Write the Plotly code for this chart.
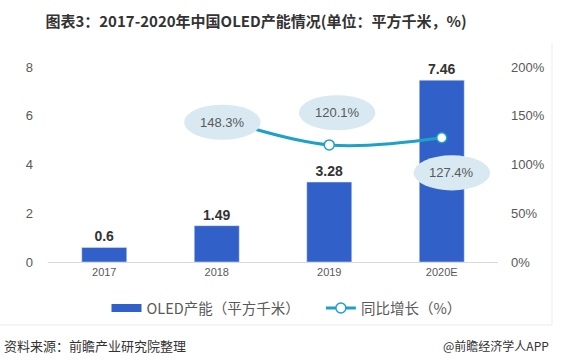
import plotly.graph_objects as go

categories = ["2017", "2018", "2019", "2020E"]
capacity = [0.6, 1.49, 3.28, 7.46]
growth_years = ["2018", "2019", "2020E"]
growth = [148.3, 120.1, 127.4]
growth_labels = ["148.3%", "120.1%", "127.4%"]

# label bubble offsets (category units, % units) relative to each point
bubble_dx = [0.05, 0.07, 0.09]
bubble_dy = [-5, 33, -36]
bubble_w = 0.34
bubble_h = 18

BAR = "#3060c8"
LINE = "#1fa0c8"
TXT = "#595959"
FONT = "Noto Sans CJK SC, Microsoft YaHei, sans-serif"
NUM = "Liberation Sans, Arial, sans-serif"
NB = "\u00a0"

fig = go.Figure()
fig.add_trace(go.Bar(
    x=categories, y=capacity, name="OLED产能（平方千米）",
    marker_color=BAR, width=0.4, showlegend=False,
    text=[str(v) for v in capacity], texttemplate="<b>%{text}</b>", textposition="outside",
    textfont=dict(size=14, color="#333333", family=NUM),
    cliponaxis=False,
))
# legend swatch for the bar series (wide rectangle as in the original legend)
fig.add_trace(go.Scatter(
    x=[None], y=[None], name="OLED产能（平方千米）" + NB * 5, mode="lines",
    line=dict(color=BAR, width=8), showlegend=True,
))
fig.add_trace(go.Scatter(
    x=growth_years, y=growth, name="同比增长（%）", yaxis="y2",
    mode="lines+markers", line=dict(color=LINE, width=3, shape="spline"),
    marker=dict(size=10, color="white", line=dict(color=LINE, width=1.5)),
))

shapes = []
annotations = []
for yr, v, lab, dx, dy in zip(growth_years, growth, growth_labels, bubble_dx, bubble_dy):
    xi = categories.index(yr) + dx
    cy = v + dy
    shapes.append(dict(type="circle", xref="x", yref="y2",
                       x0=xi - bubble_w, x1=xi + bubble_w, y0=cy - bubble_h, y1=cy + bubble_h,
                       fillcolor="#d8e9f1", line=dict(width=0), layer="above"))
    annotations.append(dict(x=xi, y=cy, xref="x", yref="y2", text=lab, showarrow=False,
                            font=dict(size=13, color=TXT, family=NUM)))

# faint frame
shapes.append(dict(type="line", xref="paper", yref="paper", x0=-0.11, x1=1.12, y0=-0.323, y1=-0.323,
                   line=dict(color="#ececec", width=1)))
shapes.append(dict(type="line", xref="paper", yref="paper", x0=1.12, x1=1.12, y0=-0.323, y1=1.12,
                   line=dict(color="#ececec", width=1)))

annotations += [
    dict(x=-0.102, y=-0.426, xref="paper", yref="paper", xanchor="left", yanchor="middle",
         showarrow=False, text="资料来源：前瞻产业研究院整理",
         font=dict(size=13, color="#333333", family=FONT)),
    dict(x=1.118, y=-0.426, xref="paper", yref="paper", xanchor="right", yanchor="middle",
         showarrow=False, text="@前瞻经济学人APP",
         font=dict(size=12, color="#333333", family=FONT)),
]

fig.update_layout(
    width=562, height=360,
    margin=dict(l=48, r=64, t=67, b=98),
    paper_bgcolor="white", plot_bgcolor="white",
    font=dict(family=FONT, color=TXT, size=12),
    title=dict(text="<b>图表3：2017-2020年中国OLED产能情况(单位：平方千米，%)</b>",
               x=256 / 562, xanchor="center", y=1 - 22 / 360, yanchor="middle",
               font=dict(size=15, color="#333333", family=FONT)),
    showlegend=True,
    legend=dict(orientation="h", x=0.53, xanchor="center", y=-0.236, yanchor="middle",
                font=dict(size=14.5, color=TXT, family=FONT), itemwidth=30),
    xaxis=dict(type="category", showgrid=False, showline=True, linecolor="#d9d9d9",
               ticks="", tickfont=dict(size=11, color=TXT, family=NUM)),
    yaxis=dict(range=[0, 8], dtick=2, showgrid=False, zeroline=False, showline=False,
               ticks="", ticklabelstandoff=14,
               tickfont=dict(size=13, color=TXT, family=NUM)),
    yaxis2=dict(range=[0, 200], dtick=50, overlaying="y", side="right", showgrid=False,
                zeroline=False, showline=False, ticksuffix="%", ticks="", ticklabelstandoff=12,
                tickfont=dict(size=13, color=TXT, family=NUM)),
    shapes=shapes,
    annotations=annotations,
)

fig.write_html("out.html", config={"displayModeBar": False},
               post_script="document.body.style.margin='0';")
